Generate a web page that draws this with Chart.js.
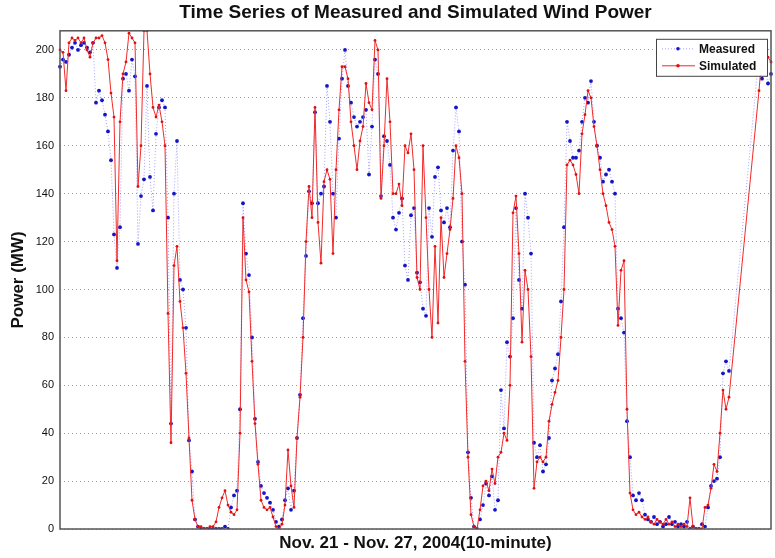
<!DOCTYPE html>
<html>
<head>
<meta charset="utf-8">
<script src="https://cdn.jsdelivr.net/npm/chart.js@4.4.1/dist/chart.umd.min.js"></script>
<style>
  html, body { margin: 0; padding: 0; background: #fff; }
  #wrap { width: 775px; height: 558px; }
</style>
</head>
<body>
<div id="wrap"><canvas id="wind-chart" width="775" height="558"></canvas></div>
<script>
// Nov. 21 - Nov. 27, 2004, sampled from the 10-minute record (null = no data)
const yTicks = [0, 20, 40, 60, 80, 100, 120, 140, 160, 180, 200];
const seriesNames = ['Measured', 'Simulated'];

const measured = [
  193, 196, 195, 198, 201, 203, 200, 202, 203, 201,
  199, 203, 178, 183, 179, 173, 166, 154, 123, 109,
  126, 188, 190, 183, 196, 189, 119, 139, 146, 185,
  147, 133, 165, 176, 179, 176, 130, 44, 140, 162,
  104, 100, 84, 37, 24, 4, 1, 0, 0, 0,
  0, 0, 0, 0, 0, 1, 0, 9, 14, 16,
  50, 136, 115, 106, 80, 46, 28, 18, 15, 13,
  11, 8, 3, 1, 4, 12, 17, 8, 16, 38,
  56, 88, 114, 141, 136, 174, 136, 140, 143, 185,
  170, 140, 130, 163, 188, 200, 185, 178, 172, 168,
  170, 172, 175, 148, 168, 196, 190, 139, 164, 162,
  152, 130, 125, 132, 138, 110, 104, 131, 134, 107,
  103, 92, 89, 134, 122, 147, 151, 133, 128, 134,
  126, 158, 176, 166, 120, 102, 32, 13, 1, 0,
  4, 10, 19, 14, 22, 8, 12, 58, 42, 78,
  72, 88, 134, 104, 92, 140, 130, 115, 36, 30,
  35, 24, 27, 38, 62, 67, 73, 95, 126, 170,
  162, 155, 155, 158, 170, 180, 178, 187, 170, 160,
  155, 145, 148, 150, 145, 140, 92, 88, 82, 45,
  30, 14, 12, 15, 12, 6, 4, 3, 5, 2,
  3, 1, 2, 5, 2, 3, 1, 2, 1, 3,
  0, 1, 0, 0, 2, 1, 9, 18, 20, 21,
  30, 65, 70, 66, null, null, null, null, null, null,
  null, null, null, 198, 188, 192, 186, 190,
];

const simulated = [
  200, 199, 183, 203, 205, 204, 205, 203, 205, 200,
  197, 203, 205, 205, 206, 203, 196, 182, 172, 112,
  170, 190, 195, 207, 205, 203, 143, 160, 208, 208,
  190, 176, 172, 177, 170, 160, 90, 36, 110, 118,
  95, 84, 65, 38, 12, 4, 1, 1, 0, 0,
  1, 1, 3, 9, 13, 16, 10, 7, 6, 8,
  40, 130, 104, 99, 70, 44, 27, 12, 9, 8,
  9, 5, 1, 0, 2, 10, 33, 18, 9, 38,
  55, 80, 120, 143, 130, 176, 128, 111, 145, 150,
  146, 115, 150, 175, 193, 193, 188, 170, 160, 150,
  162, 168, 186, 178, 175, 204, 200, 138, 160, 188,
  170, 140, 140, 144, 135, 160, 157, 165, 150, 105,
  100, 160, 130, 100, 80, 118, 86, 130, 105, 115,
  125, 138, 160, 155, 140, 70, 30, 6, 1, 0,
  8, 18, 20, 16, 25, 19, 30, 32, 40, 37,
  60, 132, 139, 115, 78, 108, 100, 72, 17, 28,
  30, 28, 30, 45, 52, 57, 62, 80, 100, 152,
  154, 152, 148, 140, 165, 173, 183, 180, 168, 160,
  150, 140, 135, 128, 125, 118, 85, 108, 112, 50,
  15, 8, 6, 7, 5, 4, 5, 3, 2, 4,
  3, 2, 4, 2, 3, 1, 2, 1, 2, 1,
  13, 1, 0, 0, 0, 9, 10, 17, 27, 24,
  40, 58, 50, 55, null, null, null, null, null, null,
  null, null, null, 183, 198, 196, 197, 195,
];

const FONT = '"Liberation Sans", Arial, Helvetica, sans-serif';

// box round the plot area plus a matlab-style legend in the top right corner
const frameAndLegend = {
  id: 'frameAndLegend',
  afterDatasetsDraw(chart) {
    const { ctx, chartArea: a } = chart;
    ctx.save();
    ctx.strokeStyle = '#555';
    ctx.lineWidth = 1.5;
    ctx.strokeRect(a.left, a.top, a.right - a.left, a.bottom - a.top);

    const bx = a.right - 115, by = a.top + 8, bw = 111, bh = 37;
    ctx.fillStyle = '#fff';
    ctx.fillRect(bx, by, bw, bh);
    ctx.strokeStyle = '#444';
    ctx.lineWidth = 1;
    ctx.strokeRect(bx + 0.5, by + 0.5, bw, bh);

    ctx.font = 'bold 12px ' + FONT;
    ctx.textBaseline = 'middle';
    chart.data.datasets.forEach((ds, k) => {
      const y = by + 10 + k * 17;
      ctx.strokeStyle = ds.borderColor;
      ctx.lineWidth = ds.borderWidth;
      ctx.setLineDash(ds.borderDash || []);
      ctx.beginPath();
      ctx.moveTo(bx + 6, y);
      ctx.lineTo(bx + 39, y);
      ctx.stroke();
      ctx.setLineDash([]);
      ctx.fillStyle = ds.pointBackgroundColor;
      ctx.beginPath();
      ctx.arc(bx + 22, y, 1.8, 0, Math.PI * 2);
      ctx.fill();
      ctx.fillStyle = '#111';
      ctx.fillText(ds.label, bx + 43, y + 0.5);
    });
    ctx.restore();
  },
};

const ctx = document.getElementById('wind-chart');

new Chart(ctx, {
  type: 'line',
  data: {
    labels: measured.map((_, i) => i),
    datasets: [
      {
        label: seriesNames[0],
        data: measured,
        order: 1,
        borderColor: '#8c8cff',
        borderWidth: 0.8,
        borderDash: [1, 2],
        pointRadius: 1.9,
        pointBorderWidth: 0,
        pointBackgroundColor: '#1515c8',
        spanGaps: true,
        tension: 0,
      },
      {
        label: seriesNames[1],
        data: simulated,
        order: 0,
        borderColor: '#f22a2a',
        borderWidth: 1,
        pointRadius: 1.4,
        pointBorderWidth: 0,
        pointBackgroundColor: '#e01010',
        spanGaps: true,
        tension: 0,
      },
    ],
  },
  options: {
    responsive: false,
    animation: false,
    layout: { padding: { left: 0, right: 2, top: 0, bottom: 0 } },
    plugins: {
      legend: { display: false },
      tooltip: { enabled: false },
      title: {
        display: true,
        fullSize: false,
        text: 'Time Series of Measured and Simulated Wind Power',
        color: '#111',
        font: { family: FONT, size: 19, weight: 'bold' },
        padding: { top: 1, bottom: 7 },
      },
    },
    scales: {
      x: {
        type: 'category',
        offset: false,
        grid: { display: false },
        border: { display: false },
        ticks: { display: false },
        title: {
          display: true,
          text: 'Nov. 21 - Nov. 27, 2004(10-minute)',
          color: '#111',
          font: { family: FONT, size: 17, weight: 'bold' },
          padding: { top: 0, bottom: 4 },
        },
        afterFit: (s) => { s.height = 29; },
      },
      y: {
        min: 0,
        max: 208,
        afterBuildTicks: (s) => { s.ticks = yTicks.map((v) => ({ value: v })); },
        grid: { color: '#9a9a9a', lineWidth: 1, drawTicks: false },
        border: { display: false, dash: [1, 3] },
        ticks: {
          color: '#111',
          padding: 6,
          font: { family: FONT, size: 11 },
        },
        title: {
          display: true,
          text: 'Power (MW)',
          color: '#111',
          font: { family: FONT, size: 17, weight: 'bold' },
          padding: { top: 8, bottom: 0 },
        },
        afterFit: (s) => { s.width = 60; },
      },
    },
  },
  plugins: [frameAndLegend],
});
</script>
</body>
</html>
